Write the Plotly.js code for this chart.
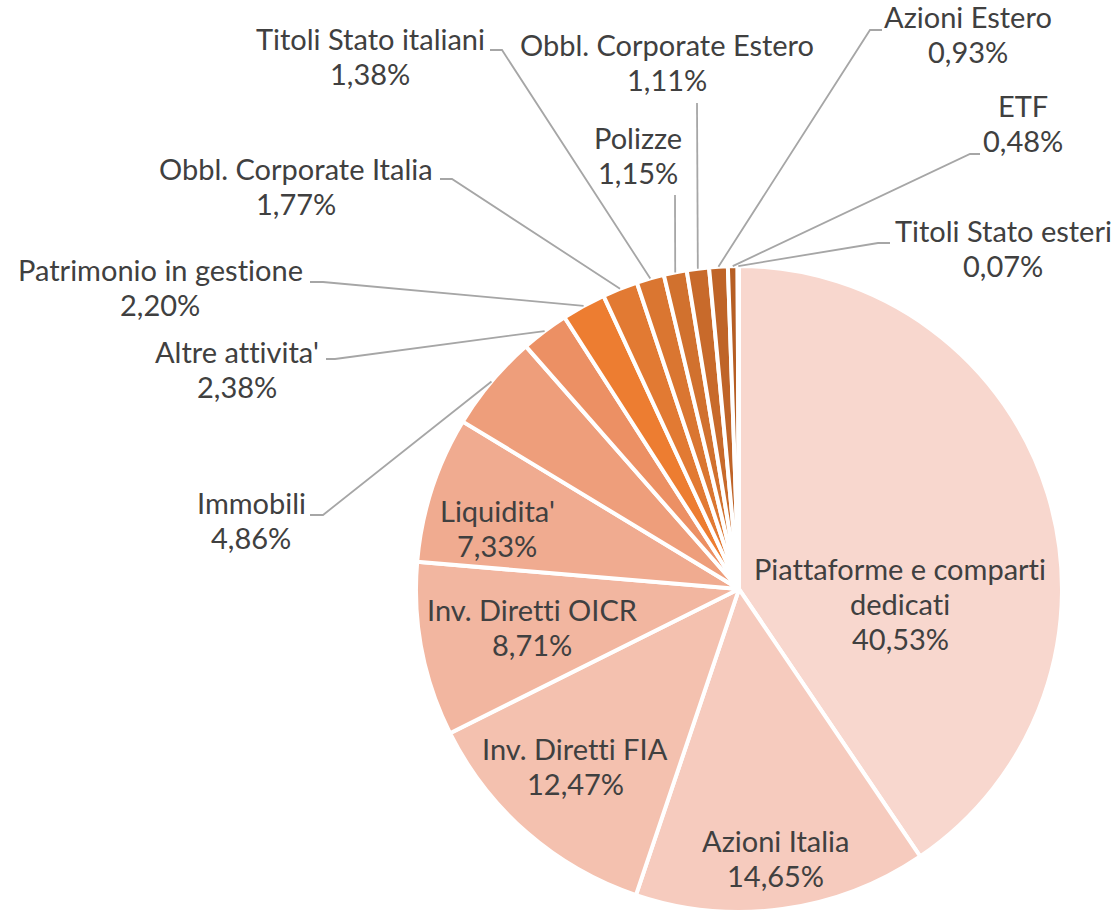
<!DOCTYPE html>
<html>
<head>
<meta charset="utf-8">
<script src="https://cdn.plot.ly/plotly-3.0.1.min.js"></script>
<style>html,body{margin:0;padding:0;background:#fff;}#chart{width:1117px;height:912px;}
svg text{font-variant-ligatures:none;font-feature-settings:"liga" 0;}</style>
</head>
<body>
<div id="chart"></div>
<script>
// ---- data ----
const categories = [
  "Piattaforme e comparti<br>dedicati", "Azioni Italia", "Inv. Diretti FIA", "Inv. Diretti OICR",
  "Liquidita'", "Immobili", "Altre attivita'", "Patrimonio in gestione",
  "Obbl. Corporate Italia", "Titoli Stato italiani", "Polizze", "Obbl. Corporate Estero",
  "Azioni Estero", "ETF", "Titoli Stato esteri"
];
const values = [40.53, 14.65, 12.47, 8.71, 7.33, 4.86, 2.38, 2.20, 1.77, 1.38, 1.15, 1.11, 0.93, 0.48, 0.07];
const colors = [
  "#F8D7CE", "#F6CBBE", "#F4C1AF", "#F2B6A0", "#F0AB90", "#EE9E7B", "#EC9064", "#ED7D31",
  "#E27A33", "#DA7631", "#D1712E", "#C86A2B", "#BF6428", "#B65E24", "#AF5A22"
];

// ---- label layout (pixel positions of label blocks and leader-line elbows) ----
const W = 1117, H = 912;
const lineGap = 35;
const labelPos = [
  [900, 603], [775, 858], [575, 766], [532, 627], [497, 528], [251, 520], [237, 369], [160, 287],
  [296, 186], [370, 56], [638, 155], [667, 62], [968, 34], [1023, 123], [1003, 248]
];
const leaderElbows = [
  null, null, null, null, null,
  [[310, 515], [323, 515]],
  [[326, 359], [335, 359]],
  [[310, 282], [323, 282]],
  [[440, 179], [452, 179]],
  [[490, 50], [502, 50]],
  [[675, 195]],
  [[697, 103]],
  [[882, 30], [870, 30]],
  [[980, 154], [970, 154]],
  [[890, 243], [878, 243]]
];

const domX = [0.3724, 0.9508], domY = [0, 0.7083];
const cx = (domX[0] + domX[1]) / 2 * W;
const cy = H - (domY[0] + domY[1]) / 2 * H;
const R = Math.min((domX[1] - domX[0]) * W, (domY[1] - domY[0]) * H) / 2;

const px = x => x / W, py = y => 1 - y / H;
const total = values.reduce((a, b) => a + b, 0);
const font = {family: "Lato, 'Open Sans', sans-serif", size: 29, color: "#404040"};

const annotations = [], shapes = [];
let cum = 0;
values.forEach((v, i) => {
  const mid = (cum + v / 2) / total * 2 * Math.PI;
  cum += v;
  const lines = categories[i].split("<br>").concat([v.toFixed(2).replace(".", ",") + "%"]);
  lines.forEach((t, k) => {
    const yy = labelPos[i][1] + (k - (lines.length - 1) / 2) * lineGap;
    annotations.push({
      xref: "paper", yref: "paper", x: px(labelPos[i][0]), y: py(yy), text: t,
      showarrow: false, xanchor: "center", yanchor: "middle", align: "center", font: font
    });
  });
  if (leaderElbows[i]) {
    const ex = cx + R * Math.sin(mid), ey = cy - R * Math.cos(mid);
    const pts = leaderElbows[i].concat([[ex, ey]]);
    const path = pts.map((p, k) => (k ? "L" : "M") + px(p[0]) + "," + py(p[1])).join(" ");
    shapes.push({type: "path", xref: "paper", yref: "paper", path: path,
      line: {color: "#A6A6A6", width: 1.8}});
  }
});

const trace = {
  type: "pie", labels: categories, values: values, sort: false, direction: "clockwise",
  rotation: 0, textinfo: "none", hoverinfo: "label+percent",
  marker: {colors: colors, line: {color: "#FFFFFF", width: 4}},
  domain: {x: domX, y: domY}, showlegend: false
};

Plotly.newPlot("chart", [trace], {
  width: W, height: H, margin: {l: 0, r: 0, t: 0, b: 0},
  paper_bgcolor: "#FFFFFF", showlegend: false,
  annotations: annotations, shapes: shapes, font: font
}, {displayModeBar: false, staticPlot: true});
</script>
</body>
</html>
